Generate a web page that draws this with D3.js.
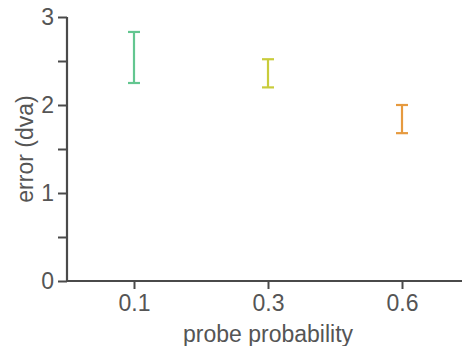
<!DOCTYPE html>
<html>
<head>
<meta charset="utf-8">
<script src="https://cdn.jsdelivr.net/npm/d3@7"></script>
<style>
  html, body { margin: 0; padding: 0; background: #fff; }
  svg { display: block; font-family: "Liberation Sans", Arial, Helvetica, sans-serif; }
</style>
</head>
<body>
<svg id="chart" width="462" height="346"></svg>
<script>
// Error by probe probability: lower and upper ends of each interval
const categories = ["0.1", "0.3", "0.6"];
const lowerValues = [2.25, 2.20, 1.68];
const upperValues = [2.83, 2.52, 2.00];
const barColors = ["#63c690", "#c9cc3b", "#e69a3f"];
const yTickValues = [0, 0.5, 1, 1.5, 2, 2.5, 3];
const yTickLabels = ["0", "", "1", "", "2", "", "3"];

const svg = d3.select("#chart");
const axisColor = "#4a4a4a";
const textColor = "#555";
const fontSize = 23;

const x = d3.scalePoint().domain(categories).range([67, 469]).padding(0.5);
const y = d3.scaleLinear().domain([0, 3]).range([281, 17]);

// y axis
const yAxis = svg.append("g")
  .attr("transform", "translate(67,0)")
  .call(d3.axisLeft(y).tickValues(yTickValues)
    .tickFormat((d, i) => yTickLabels[i]).tickSize(9).tickPadding(4));
// x axis
const xAxis = svg.append("g")
  .attr("transform", "translate(0,281)")
  .call(d3.axisBottom(x).tickSize(8).tickPadding(6));

[yAxis, xAxis].forEach(g => {
  g.select(".domain").attr("stroke", axisColor).attr("stroke-width", 2.2);
  g.selectAll(".tick line").attr("stroke", axisColor).attr("stroke-width", 2);
  g.selectAll(".tick text").attr("fill", textColor).attr("font-size", fontSize)
    .attr("font-family", "'Liberation Sans', Arial, sans-serif");
});
// plain axis lines without end ticks
yAxis.select(".domain").attr("d", `M0,${y(3)}V${y(0)}`);
xAxis.select(".domain").attr("d", `M67,0H469`);

// axis titles
svg.append("text")
  .attr("x", x("0.3"))
  .attr("y", 342)
  .attr("text-anchor", "middle")
  .attr("fill", textColor)
  .attr("font-size", fontSize)
  .text("probe probability");

svg.append("text")
  .attr("transform", `translate(33,${y(1.5)}) rotate(-90)`)
  .attr("text-anchor", "middle")
  .attr("fill", textColor)
  .attr("font-size", fontSize)
  .text("error (dva)");

// error bars
const capHalf = 6;
const bars = svg.append("g").selectAll("g")
  .data(categories.map((c, i) => ({ c, lo: lowerValues[i], hi: upperValues[i], color: barColors[i] })))
  .join("g")
  .attr("stroke", d => d.color)
  .attr("stroke-width", 2.2);

bars.append("line")
  .attr("x1", d => x(d.c)).attr("x2", d => x(d.c))
  .attr("y1", d => y(d.lo)).attr("y2", d => y(d.hi));
bars.append("line")
  .attr("x1", d => x(d.c) - capHalf).attr("x2", d => x(d.c) + capHalf)
  .attr("y1", d => y(d.hi)).attr("y2", d => y(d.hi));
bars.append("line")
  .attr("x1", d => x(d.c) - capHalf).attr("x2", d => x(d.c) + capHalf)
  .attr("y1", d => y(d.lo)).attr("y2", d => y(d.lo));
</script>
</body>
</html>
